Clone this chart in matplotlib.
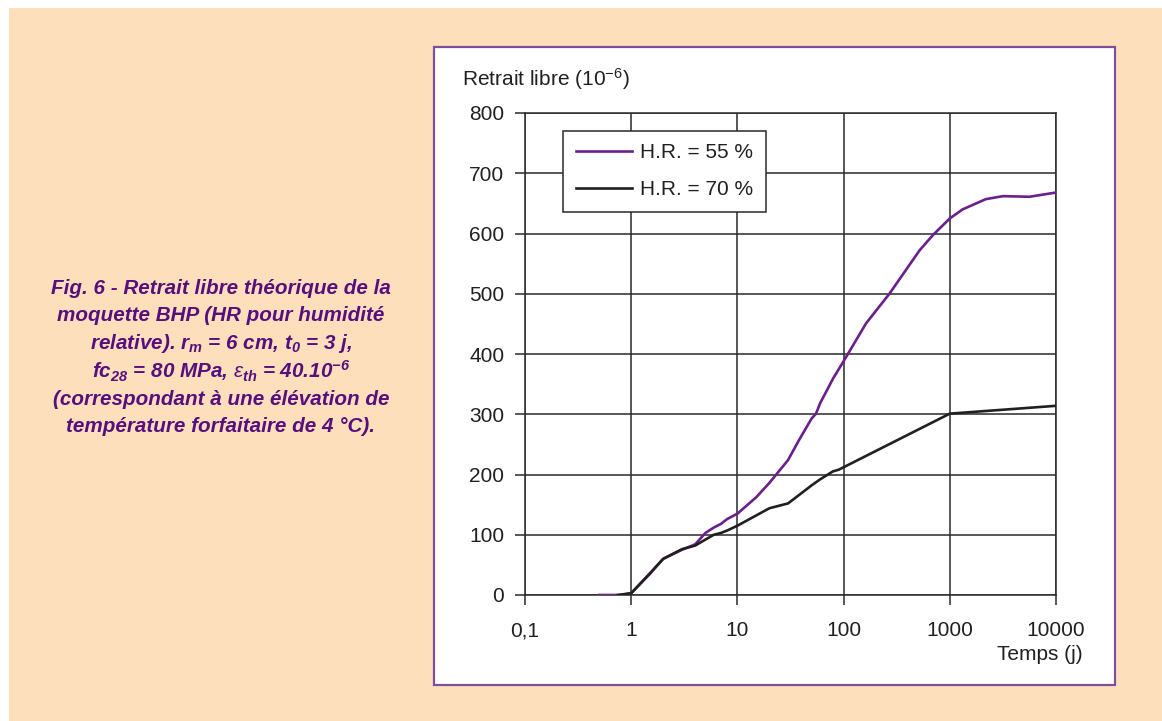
import matplotlib
matplotlib.use("Agg")
import matplotlib.pyplot as plt
from matplotlib.patches import Rectangle

plt.rcParams['font.family'] = ['Liberation Sans', 'DejaVu Sans']
plt.rcParams['mathtext.fontset'] = 'custom'
plt.rcParams['mathtext.rm'] = 'Liberation Sans'
plt.rcParams['mathtext.it'] = 'Liberation Sans:italic'
plt.rcParams['mathtext.bf'] = 'Liberation Sans:bold'
plt.rcParams['mathtext.bfit'] = 'Liberation Sans:italic:bold'

# ---- data ----
t55 = [0.5, 0.8, 1, 1.5, 2, 3, 4, 5, 6, 7, 8, 10, 15, 20, 30, 38, 50, 55, 60, 80,
       100, 163, 270, 519, 690, 1000, 1320, 2180, 3170, 5630, 10000]
v55 = [0, 0, 3, 35, 60, 75, 84, 103, 112, 118, 126, 135, 162, 186, 224, 257, 293, 301,
       318, 360, 388, 451, 500, 572, 597, 625, 640, 657, 662, 661, 668]
t70 = [0.75, 1, 1.5, 2, 3, 4, 5, 6, 7, 8, 10, 20, 30, 50, 59, 79, 90, 1000, 10000]
v70 = [0, 3, 36, 60, 76, 82, 92, 100, 103, 107, 115, 144, 152, 182, 191, 205, 208, 301, 314]
xticks = [0.1, 1, 10, 100, 1000, 10000]
xticklabels = ["0,1", "1", "10", "100", "1000", "10000"]
yticks = [0, 100, 200, 300, 400, 500, 600, 700, 800]
labels = ["H.R. = 55 %", "H.R. = 70 %"]

W, H = 1162, 721
fig = plt.figure(figsize=(W / 100, H / 100), dpi=100, facecolor='white')

# peach background
fig.patches.append(Rectangle((9 / W, 0), 1 - 9 / W, 1 - 8 / H, transform=fig.transFigure,
                             facecolor='#fde0bb', edgecolor='none', zorder=-10))
# white panel
fig.patches.append(Rectangle((434 / W, 1 - 685 / H), (1115 - 434) / W, (685 - 47) / H,
                             transform=fig.transFigure, facecolor='white',
                             edgecolor='#7f4f9f', linewidth=1.6, zorder=-9))

ax = fig.add_axes([525 / W, 1 - 595 / H, (1056 - 525) / W, (595 - 113) / H])
ax.set_facecolor('white')
ax.set_xscale('log')
ax.set_xlim(0.1, 10000)
ax.set_ylim(0, 800)

gc = '#2a2a2a'
tc = '#231f20'
fs = 15
ax.plot(t55, v55, color='#6a1f8c', lw=1.9, label=labels[0], zorder=3)
ax.plot(t70, v70, color='#231f20', lw=1.9, label=labels[1], zorder=3)

ax.set_xticks(xticks)
ax.set_xticklabels(xticklabels)
ax.xaxis.set_minor_locator(matplotlib.ticker.NullLocator())
ax.set_yticks(yticks)
ax.set_yticklabels([str(v) for v in yticks])
ax.grid(True, which='major', color=gc, lw=1.1)
ax.tick_params(axis='both', direction='out', length=7, width=1.1, color=gc,
               labelsize=fs, labelcolor=tc)
ax.tick_params(axis='x', pad=12)
ax.tick_params(axis='y', pad=8)
for s in ax.spines.values():
    s.set_color(gc)
    s.set_linewidth(1.1)

leg = ax.legend(loc='upper left', bbox_to_anchor=((563 - 525) / 531, (595 - 131) / 482),
                borderaxespad=0, fontsize=fs, frameon=True, fancybox=False,
                handlelength=2.7, handletextpad=0.4, labelspacing=0.85,
                borderpad=0.6, labelcolor=tc)
leg.get_frame().set_edgecolor(gc)
leg.get_frame().set_linewidth(1.1)
leg.get_frame().set_alpha(1)

fig.text(462 / W, 1 - 79 / H, r"Retrait libre (10$^{-6}$)", fontsize=fs,
         color=tc, ha='left', va='center')
fig.text(1083 / W, 1 - 655 / H, "Temps (j)", fontsize=fs, color=tc,
         ha='right', va='center')

cap = [
    "Fig. 6 - Retrait libre théorique de la",
    "moquette BHP (HR pour humidité",
    r"relative). r$_{\mathbfit{m}}$ = 6 cm, t$_{\mathbfit{0}}$ = 3 j,",
    r"fc$_{\mathbfit{28}}$ = 80 MPa, $\varepsilon_{\mathbfit{th}}$ = 40.10$^{\mathbfit{-6}}$",
    "(correspondant à une élévation de",
    "température forfaitaire de 4 °C).",
]
for i, line in enumerate(cap):
    fig.text(221 / W, 1 - (288 + 27.8 * i) / H, line, fontsize=14.9, color='#570f7f',
             fontweight='bold', fontstyle='italic', ha='center', va='center')

fig.savefig("out.png", dpi=100, facecolor='white')
